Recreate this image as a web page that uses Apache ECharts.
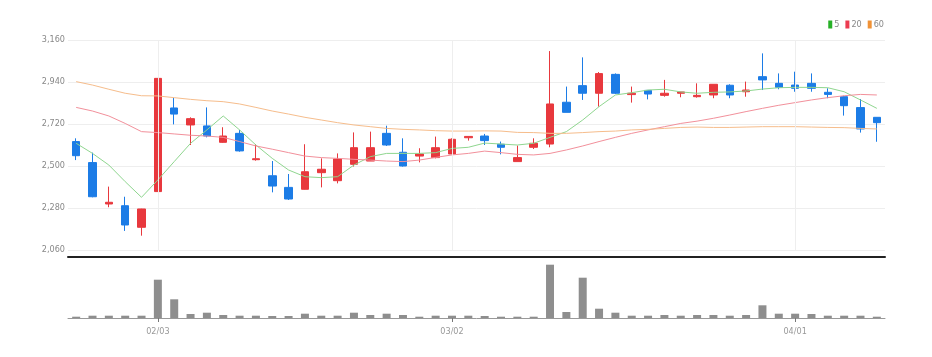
<!DOCTYPE html>
<html><head><meta charset="utf-8">
<script src="https://cdn.jsdelivr.net/npm/echarts@6/dist/echarts.min.js"></script>
<style>html,body{margin:0;padding:0;background:#fff}#c{width:932px;height:357px}</style>
</head><body><div id="c"></div>
<script>
const dates = ['01/24','01/25','01/26','01/27','01/28','02/03','02/04','02/07','02/08','02/09','02/10','02/11','02/14','02/15','02/16','02/17','02/18','02/21','02/22','02/23','02/24','02/25','02/28','03/02','03/03','03/04','03/07','03/08','03/10','03/11','03/14','03/15','03/16','03/17','03/18','03/21','03/22','03/23','03/24','03/25','03/28','03/29','03/30','03/31','04/01','04/04','04/05','04/06','04/07','04/08'];
const opens  = [2628,2518,2301,2292,2179,2366,2804,2715,2710,2624,2671,2533,2449,2388,2378,2465,2423,2509,2526,2671,2572,2552,2544,2563,2648,2657,2614,2523,2598,2615,2834,2921,2881,2980,2874,2896,2870,2881,2863,2872,2923,2889,2968,2933,2924,2933,2886,2863,2806,2755];
const closes = [2554,2339,2310,2191,2275,2959,2772,2748,2657,2657,2579,2538,2395,2327,2470,2483,2537,2596,2596,2610,2500,2563,2596,2640,2655,2633,2598,2544,2619,2825,2781,2881,2984,2881,2881,2877,2881,2888,2870,2928,2872,2898,2951,2912,2907,2907,2875,2816,2694,2727];
const lows   = [2531,2336,2284,2160,2135,2365,2718,2610,2650,2622,2575,2528,2362,2322,2377,2388,2409,2497,2526,2605,2497,2519,2540,2563,2633,2610,2561,2523,2589,2598,2781,2846,2811,2877,2832,2849,2863,2860,2858,2855,2855,2863,2898,2902,2889,2889,2855,2764,2675,2627];
const highs  = [2645,2570,2392,2339,2276,2960,2858,2755,2807,2703,2689,2615,2526,2458,2614,2540,2566,2676,2680,2711,2645,2593,2654,2645,2656,2668,2628,2607,2645,3102,2916,3069,2992,2985,2916,2896,2951,2888,2933,2928,2928,2942,3090,2985,2994,2985,2907,2868,2851,2755];
const ma5  = [2619,2566,2505,2418,2336,2427,2523,2619,2689,2762,2689,2610,2540,2479,2444,2439,2444,2505,2549,2566,2566,2566,2570,2592,2598,2620,2615,2610,2619,2650,2680,2741,2811,2872,2884,2898,2902,2888,2881,2886,2888,2893,2903,2910,2912,2912,2910,2889,2846,2802];
const ma20 = [2807,2788,2762,2723,2680,2675,2668,2661,2657,2650,2628,2605,2588,2570,2552,2544,2540,2535,2531,2526,2523,2531,2545,2558,2566,2578,2570,2561,2558,2566,2584,2605,2628,2650,2671,2689,2706,2723,2735,2750,2767,2785,2802,2818,2832,2846,2858,2868,2875,2872];
const ma60 = [2942,2924,2902,2881,2868,2867,2858,2849,2842,2837,2825,2807,2788,2772,2755,2741,2727,2715,2706,2697,2692,2689,2685,2683,2683,2684,2683,2676,2675,2671,2671,2675,2680,2683,2689,2692,2697,2702,2704,2702,2702,2704,2706,2706,2706,2704,2702,2701,2697,2694];
const volumes = [13,23,23,23,23,383,187,40,53,30,23,23,20,20,43,23,23,53,30,43,30,13,23,23,23,20,13,13,13,533,60,403,93,53,23,23,30,23,30,30,23,30,127,43,43,40,23,23,23,13];
const priceTicks = [2060,2280,2500,2720,2940,3160];
const monthTicks = ['02/03','03/02','04/01'];

const candles = opens.map((o, i) => [o, closes[i], lows[i], highs[i]]);
const isMonth = (i, v) => monthTicks.indexOf(v === undefined ? dates[i] : v) >= 0;
const FONT = '"DejaVu Sans Condensed", "Liberation Sans Narrow", "Roboto", sans-serif';

const chart = echarts.init(document.getElementById('c'));
chart.setOption({
  animation: false,
  backgroundColor: '#fff',
  legend: {
    right: 48, top: 20, icon: 'rect', itemWidth: 4, itemHeight: 8, itemGap: 6, padding: 0,
    textStyle: { fontSize: 9, color: '#888', fontFamily: FONT, padding: [0, 0, 0, -3] },
    data: [
      { name: '5', itemStyle: { color: '#27b027' } },
      { name: '20', itemStyle: { color: '#ec3b50' } },
      { name: '60', itemStyle: { color: '#f09236' } }
    ]
  },
  grid: [
    { left: 68, right: 47, top: 40, height: 210 },
    { left: 68, right: 47, top: 258, height: 60 }
  ],
  xAxis: [
    { type: 'category', gridIndex: 0, data: dates, boundaryGap: true, offset: 7,
      axisLine: { show: true, lineStyle: { color: '#222', width: 2 } },
      axisTick: { show: false }, axisLabel: { show: false }, splitLine: { show: false } },
    { type: 'category', gridIndex: 1, data: dates, boundaryGap: true,
      axisLine: { show: true, lineStyle: { color: '#999', width: 1 } },
      axisTick: { show: true, alignWithLabel: true, interval: isMonth, length: 4, lineStyle: { color: '#777' } },
      axisLabel: { interval: isMonth, color: '#999', fontSize: 9, fontFamily: FONT, margin: 9 },
      splitLine: { show: false } }
  ],
  yAxis: [
    { type: 'value', gridIndex: 0, min: 2060, max: 3160, scale: true,
      axisLine: { show: false },
      axisTick: { show: false, customValues: priceTicks },
      axisLabel: { customValues: priceTicks, color: '#888', fontSize: 9, fontFamily: FONT, margin: 3,
        formatter: v => v.toLocaleString('en-US') },
      splitLine: { show: true, lineStyle: { color: '#eeeeee', width: 1 } } },
    { type: 'value', gridIndex: 1, min: 0, max: 600, show: false, splitLine: { show: false } }
  ],
  series: [
    { name: 'price', type: 'candlestick', xAxisIndex: 0, yAxisIndex: 0, data: candles, barWidth: 8,
      itemStyle: { color: '#e8383d', color0: '#1c7ce6', borderColor: '#e8383d', borderColor0: '#1c7ce6', borderWidth: 1 },
      markLine: { silent: true, symbol: 'none', label: { show: false },
        lineStyle: { color: '#eeeeee', type: 'solid', width: 1 },
        data: monthTicks.map(d => ({ xAxis: d })) } },
    { name: '5', type: 'line', data: ma5, symbol: 'none', smooth: false,
      lineStyle: { color: '#8fd68f', width: 1 }, itemStyle: { color: '#27b027' } },
    { name: '20', type: 'line', data: ma20, symbol: 'none', smooth: false,
      lineStyle: { color: '#f2909b', width: 1 }, itemStyle: { color: '#ec3b50' } },
    { name: '60', type: 'line', data: ma60, symbol: 'none', smooth: false,
      lineStyle: { color: '#f6bd8c', width: 1 }, itemStyle: { color: '#f09236' } },
    { name: 'volume', type: 'bar', xAxisIndex: 1, yAxisIndex: 1, data: volumes, barWidth: 8,
      itemStyle: { color: '#8e8e8e' } }
  ]
});
</script>
</body></html>
